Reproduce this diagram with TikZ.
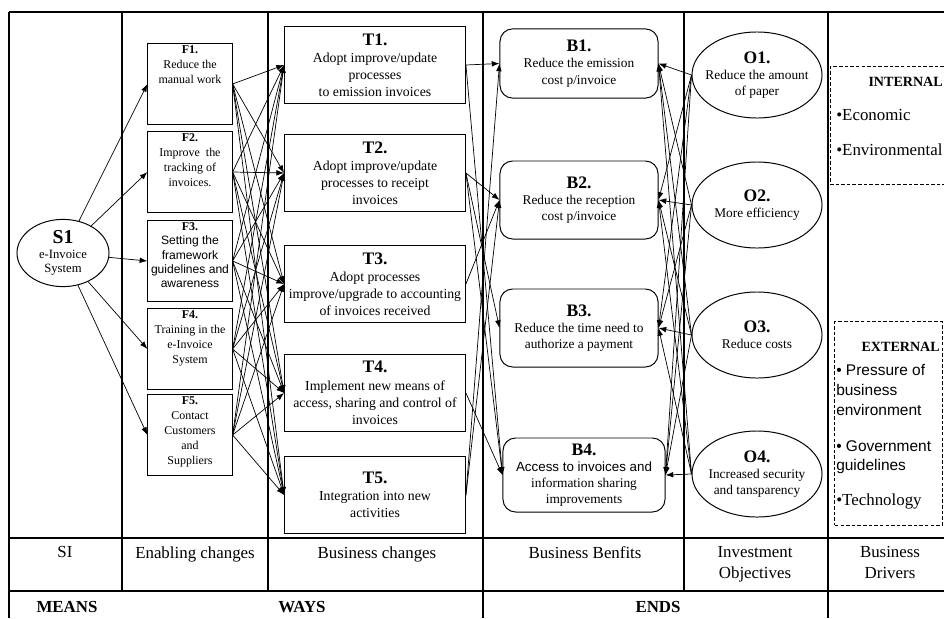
\documentclass[tikz,border=0pt]{standalone}
\usepackage{fontspec}
\setmainfont{Liberation Serif}
\newfontfamily\sansfont{Liberation Sans}
\usetikzlibrary{shapes.geometric,arrows.meta,positioning}
\tikzset{
  sysnode/.style={ellipse, draw, line width=0.7pt, minimum width=2.3cm,
    minimum height=1.68cm, inner sep=0pt, align=center,
    font=\fontsize{9}{10.5}\selectfont},
  enbox/.style={rectangle, draw, line width=0.7pt, inner sep=1.5pt,
    font=\fontsize{8.5}{10.6}\selectfont},
  chbox/.style={rectangle, draw, line width=0.7pt, minimum width=4.52cm,
    minimum height=1.92cm, inner sep=2pt, align=center,
    font=\fontsize{9.8}{12.2}\selectfont},
  bfbox/.style={rectangle, draw, rounded corners=9pt, line width=0.7pt,
    minimum width=3.95cm, minimum height=1.95cm, inner sep=2pt, align=center,
    font=\fontsize{9.5}{11.5}\selectfont},
  objnode/.style={ellipse, draw, line width=0.7pt, minimum width=3.25cm,
    minimum height=2.15cm, inner sep=-7pt, align=center,
    font=\fontsize{9.5}{11.5}\selectfont},
  drvbox/.style={rectangle, draw, line width=0.6pt,
    dash pattern=on 2.5pt off 1.5pt},
  drvtxt/.style={anchor=base west, inner sep=0pt,
    font=\fontsize{12}{14}\selectfont},
  drvsans/.style={drvtxt, font=\fontsize{11}{13}\selectfont\sansfont},
  drvhdr/.style={anchor=base east, inner sep=0pt,
    font=\fontsize{10}{12}\selectfont\bfseries},
  edge/.style={-{Latex[length=5.5pt,width=4pt]}, line width=0.5pt},
  tabline/.style={line width=0.8pt},
  collbl/.style={anchor=north, inner sep=0pt, align=center,
    font=\fontsize{12}{15}\selectfont},
  phase/.style={inner sep=0pt, font=\fontsize{12}{14}\selectfont\bfseries},
}

\begin{document}
\begin{tikzpicture}[x=0.025cm, y=-0.025cm]

% Spaltengrenzen (Pixel der Vorlage)
\def\lL{9}
\def\lA{122}
\def\lB{268}
\def\lC{483}
\def\lD{684}
\def\lE{828}
\def\lR{944}
% Zeilengrenzen
\def\yT{12}
\def\yM{538}
\def\yN{591}
\def\yB{618}
% Mitten der Knotenspalten
\def\cF{190}
\def\cT{375}
\def\cB{579}
\def\cO{757}

\clip (0,0) rectangle (\lR,\yB);

% Tabellenraster
\draw[tabline] (\lL,\yT) -- (\lR,\yT);
\draw[tabline] (\lL,\yM) -- (\lR,\yM);
\draw[tabline] (\lL,\yN) -- (\lR,\yN);
\foreach \xx in {\lL,\lC,\lE}
  \draw[tabline] (\xx,\yT) -- (\xx,\yB);
\foreach \xx in {\lA,\lB,\lD}
  \draw[tabline] (\xx,\yT) -- (\xx,\yN);

% SI
\node[sysnode] (S1) at (63,253)
  {{\fontsize{14}{17}\selectfont\bfseries S1}\\e-Invoice\\System};

% Enabling changes
\foreach \n/\yy/\txt in {
  1/84/{Reduce the\\manual work},
  2/172/{Improve\ \ the\\tracking of\\invoices.},
  3/261/{\sansfont\fontsize{8.6}{10}\selectfont Setting the\\framework\\guidelines and\\awareness},
  4/349/{Training in the\\e-Invoice\\System},
  5/435/{Contact\\Customers\\and\\Suppliers}}{
  \node[enbox] (F\n) at (\cF,\yy)
    {\parbox[c][1.9cm][t]{2cm}{\centering\textbf{F\n.}\\\txt}};
}

% Business changes
\foreach \n/\yy/\txt in {
  1/65/{Adopt improve/update\\processes\\to emission invoices},
  2/173/{Adopt improve/update\\processes to receipt\\invoices},
  3/284/{Adopt processes\\improve/upgrade to accounting\\of invoices received},
  4/393/{Implement new means of\\access, sharing and control of\\invoices},
  5/495/{Integration into new\\activities}}{
  \node[chbox] (T\n) at (\cT,\yy)
    {{\fontsize{12.5}{15}\selectfont\bfseries T\n.}\\\txt};
}

% Business benefits
\node[bfbox, minimum height=1.73cm] (B1) at (\cB,63.5)
  {{\fontsize{12.5}{15}\selectfont\bfseries B1.}\\Reduce the emission\\cost p/invoice};
\node[bfbox] (B2) at (\cB,200)
  {{\fontsize{12.5}{15}\selectfont\bfseries B2.}\\Reduce the reception\\cost p/invoice};
\node[bfbox] (B3) at (\cB,328)
  {{\fontsize{12.5}{15}\selectfont\bfseries B3.}\\Reduce the time need to\\authorize a payment};
\node[bfbox, minimum width=4.05cm, minimum height=1.85cm] (B4) at (584,475)
  {{\fontsize{12.5}{15}\selectfont\bfseries B4.}\\\sansfont Access to invoices and\\information sharing\\improvements};

% Investment objectives
\foreach \n/\yy/\txt in {
  1/75/{Reduce the amount\\of paper},
  2/205/{More efficiency},
  3/335/{Reduce costs},
  4/474/{Increased security\\and tansparency}}{
  \node[objnode] (O\n) at (\cO,\yy)
    {{\fontsize{12.5}{15}\selectfont\bfseries O\n.}\\\txt};
}

% Business drivers
\node[drvbox, minimum width=3.05cm, minimum height=2.93cm] (intl) at (891,125.5) {};
\node[drvhdr] (intlhdr) at (943,86) {INTERNAL};
\node[drvtxt] (eco) at (836,120) {\textbullet Economic};
\node[drvtxt] (env) at (836,155) {\textbullet Environmental};

\node[drvbox, minimum width=2.68cm, minimum height=5.08cm] (extl) at (888.5,423.5) {};
\node[drvhdr] (extlhdr) at (940,351) {EXTERNAL};
\node[drvsans] (pres) at (836,375) {\textbullet\ Pressure of};
\node[drvsans] (busi) at (836,395) {business};
\node[drvsans] (envi) at (836,415) {environment};
\node[drvsans] (gov)  at (836,451) {\textbullet\ Government};
\node[drvsans] (guid) at (836,470) {guidelines};
\node[drvtxt]  (tech) at (836,505) {\textbullet Technology};

% Verbindungen
\foreach \i in {1,...,5}
  \draw[edge] (S1) -- (F\i.west);
\foreach \i in {1,...,5}{
  \foreach \j in {1,...,5}
    \draw[edge] (F\i.east) -- (T\j.west);
}
\foreach \a/\b in {1/1,1/4,2/2,2/3,2/4,3/2,4/4,5/1,5/2}
  \draw[edge] (T\a.east) -- (B\b.west);
\foreach \i in {1,...,4}{
  \foreach \j in {1,...,4}
    \draw[edge] (O\i.west) -- (B\j.east);
}

% Spaltenbeschriftung
\node[collbl] (lSI) at (65,546) {SI};
\node[collbl] (lEC) at (195,546) {Enabling changes};
\node[collbl] (lBC) at (377,546) {Business changes};
\node[collbl] (lBB) at (585,546) {Business Benfits};
\node[collbl] (lIO) at (755,546) {Investment\\Objectives};
\node[collbl] (lBD) at (890,546) {Business\\Drivers};

\node[phase] (means) at (67,607) {MEANS};
\node[phase] (ways)  at (302,607) {WAYS};
\node[phase] (ends)  at (658,607) {ENDS};

\end{tikzpicture}
\end{document}
